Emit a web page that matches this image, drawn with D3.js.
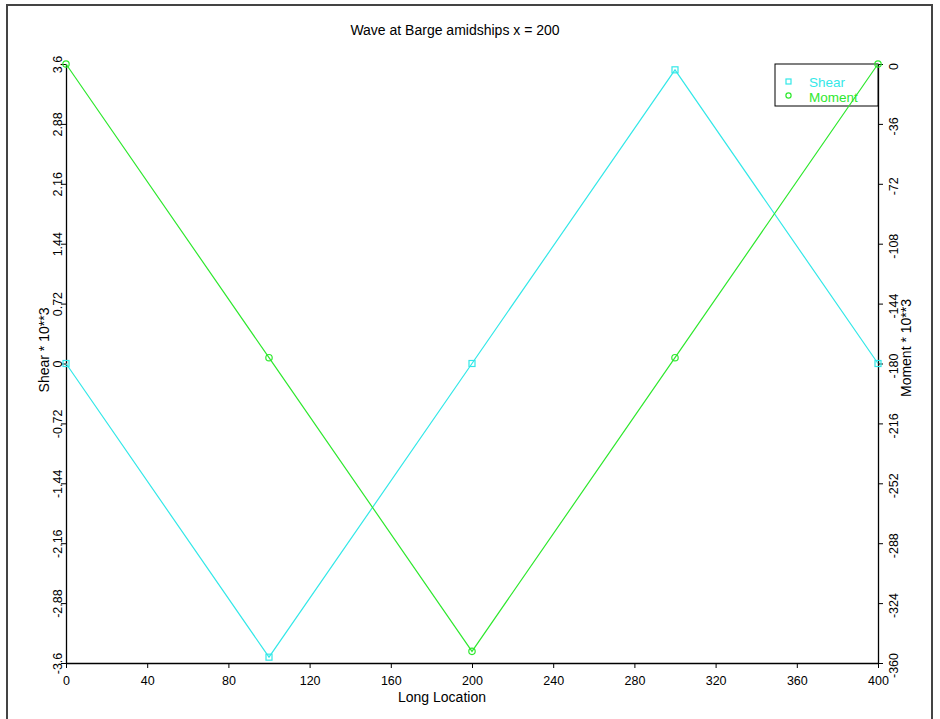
<!DOCTYPE html>
<html>
<head>
<meta charset="utf-8">
<script src="https://cdn.jsdelivr.net/npm/d3@7"></script>
<style>
  html, body { margin: 0; padding: 0; background: #fff; }
  svg { display: block; font-family: "Liberation Sans", Arial, sans-serif; }
</style>
</head>
<body>
<svg id="chart" width="940" height="719"></svg>
<script>
// Stations along the barge and the load results at each one
const stations = [0, 100, 200, 300, 400];
const shear = [0, -3.53, 0, 3.53, 0];          // Shear * 10**3
const moment = [0, -176.5, -353, -176.5, 0];   // Moment * 10**3

// Axis tick values
const xTicks = [0, 40, 80, 120, 160, 200, 240, 280, 320, 360, 400];
const shearTicks = [-3.6, -2.88, -2.16, -1.44, -0.72, 0, 0.72, 1.44, 2.16, 2.88, 3.6];
const momentTicks = [0, -36, -72, -108, -144, -180, -216, -252, -288, -324, -360];

const seriesNames = ["Shear", "Moment"];
const shearColor = "#33e8e8";
const momentColor = "#2ee82e";

const svg = d3.select("#chart");

// Outer frame
svg.append("rect")
  .attr("x", 7).attr("y", 5)
  .attr("width", 925).attr("height", 730)
  .attr("fill", "none")
  .attr("stroke", "#444")
  .attr("stroke-width", 2);

const plotL = 66, plotR = 878, plotT = 64, plotB = 663;

const x = d3.scaleLinear().domain([0, 400]).range([plotL, plotR]);
const yL = d3.scaleLinear().domain([-3.6, 3.6]).range([plotB, plotT]);
const yR = d3.scaleLinear().domain([-360, 0]).range([plotB, plotT]);

const fmt = d => String(d);

// Bottom axis
const gx = svg.append("g")
  .attr("transform", `translate(0,${plotB})`)
  .call(d3.axisBottom(x).tickValues(xTicks).tickFormat(fmt).tickSize(5).tickSizeOuter(0));
gx.selectAll("text").attr("font-size", 12.5).attr("fill", "#000").attr("dy", "1.1em");

// Left axis (shear)
const gl = svg.append("g")
  .attr("transform", `translate(${plotL},0)`)
  .call(d3.axisLeft(yL).tickValues(shearTicks).tickFormat(fmt).tickSize(5).tickSizeOuter(0));
gl.selectAll(".tick text")
  .attr("font-size", 12.5).attr("fill", "#000")
  .attr("text-anchor", "middle")
  .attr("x", null)
  .attr("transform", "translate(-8,0) rotate(-90)")
  .attr("dy", "0.35em");

// Right axis (moment)
const gr = svg.append("g")
  .attr("transform", `translate(${plotR},0)`)
  .call(d3.axisRight(yR).tickValues(momentTicks).tickFormat(fmt).tickSize(5).tickSizeOuter(0));
gr.selectAll(".tick text")
  .attr("font-size", 12.5).attr("fill", "#000")
  .attr("text-anchor", "middle")
  .attr("x", null)
  .attr("transform", "translate(16,2) rotate(-90)")
  .attr("dy", "0.35em");

[gx, gl, gr].forEach(g => g.selectAll("path, line").attr("stroke", "#000"));
svg.selectAll(".domain").attr("stroke-width", 1.3);

// Title and axis titles
svg.append("text")
  .attr("x", 455).attr("y", 35)
  .attr("text-anchor", "middle")
  .attr("font-size", 14)
  .text("Wave at Barge amidships x = 200");

svg.append("text")
  .attr("x", 442).attr("y", 702)
  .attr("text-anchor", "middle")
  .attr("font-size", 14)
  .text("Long Location");

svg.append("text")
  .attr("transform", "translate(44,350) rotate(-90)")
  .attr("text-anchor", "middle")
  .attr("dy", "0.35em")
  .attr("font-size", 14)
  .text("Shear * 10**3");

svg.append("text")
  .attr("transform", "translate(906,348) rotate(-90)")
  .attr("text-anchor", "middle")
  .attr("dy", "0.35em")
  .attr("font-size", 14)
  .text("Moment * 10**3");

// Legend (drawn beneath the series, so lines pass over it)
const lg = svg.append("g");
lg.append("rect")
  .attr("x", 775).attr("y", 64)
  .attr("width", 103).attr("height", 42)
  .attr("fill", "#fff")
  .attr("stroke", "#000")
  .attr("stroke-width", 1);

lg.append("rect")
  .attr("x", 786).attr("y", 79)
  .attr("width", 5).attr("height", 5)
  .attr("fill", "none").attr("stroke", shearColor).attr("stroke-width", 1.2);
lg.append("circle")
  .attr("cx", 788.5).attr("cy", 95.5).attr("r", 2.6)
  .attr("fill", "none").attr("stroke", momentColor).attr("stroke-width", 1.2);

lg.append("text")
  .attr("x", 809).attr("y", 87)
  .attr("font-size", 13.5)
  .attr("fill", shearColor)
  .text(seriesNames[0]);
lg.append("text")
  .attr("x", 809).attr("y", 101.5)
  .attr("font-size", 13.5)
  .attr("fill", momentColor)
  .text(seriesNames[1]);

// Series lines
const lineShear = d3.line().x((d, i) => x(stations[i])).y(d => yL(d));
const lineMoment = d3.line().x((d, i) => x(stations[i])).y(d => yR(d));

svg.append("path")
  .datum(shear)
  .attr("d", lineShear)
  .attr("fill", "none")
  .attr("stroke", shearColor)
  .attr("stroke-width", 1.2);

svg.append("path")
  .datum(moment)
  .attr("d", lineMoment)
  .attr("fill", "none")
  .attr("stroke", momentColor)
  .attr("stroke-width", 1.2);

// Markers: squares for shear, circles for moment
svg.selectAll(".shear-pt")
  .data(shear)
  .enter().append("rect")
  .attr("class", "shear-pt")
  .attr("x", (d, i) => x(stations[i]) - 3)
  .attr("y", d => yL(d) - 3)
  .attr("width", 6).attr("height", 6)
  .attr("fill", "none")
  .attr("stroke", shearColor)
  .attr("stroke-width", 1.2);

svg.selectAll(".moment-pt")
  .data(moment)
  .enter().append("circle")
  .attr("class", "moment-pt")
  .attr("cx", (d, i) => x(stations[i]))
  .attr("cy", d => yR(d))
  .attr("r", 3.2)
  .attr("fill", "none")
  .attr("stroke", momentColor)
  .attr("stroke-width", 1.2);
</script>
</body>
</html>
